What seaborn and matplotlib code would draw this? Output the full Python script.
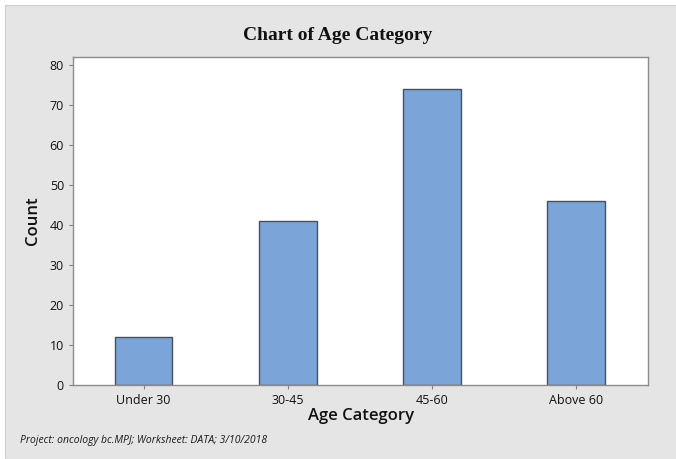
import matplotlib
matplotlib.use("Agg")
import matplotlib.pyplot as plt
import seaborn as sns
import pandas as pd
from matplotlib.patches import Rectangle

# === Data ===
categories = ["Under 30", "30-45", "45-60", "Above 60"]
counts = [12, 41, 74, 46]
y_ticks = [0, 10, 20, 30, 40, 50, 60, 70, 80]

df = pd.DataFrame({"Age Category": categories, "Count": counts})

sns.set_style("white")
plt.rcParams["font.family"] = ["Open Sans", "DejaVu Sans"]

W, H = 676, 459
fig = plt.figure(figsize=(W / 100, H / 100), dpi=100, facecolor="white")
# gray Minitab panel (drawn behind the axes)
fig.patches.append(Rectangle((5 / W, 0), 1, 1 - 5 / H, transform=fig.transFigure,
                             facecolor="#E5E5E5", edgecolor="#D0D0D0", lw=0.8, zorder=-1))

left, right, top, bottom = 73, 648, 57, 385
ax = fig.add_axes([left / W, 1 - bottom / H, (right - left) / W, (bottom - top) / H])
ax.set_facecolor("white")

sns.barplot(data=df, x="Age Category", y="Count", ax=ax, color="#7BA4D9",
            width=0.4, edgecolor="#4A4F5A", linewidth=1.0, saturation=1)

ax.set_xlim(-0.49, 3.5)
ax.set_ylim(0, 82)
ax.set_yticks(y_ticks)
ax.tick_params(axis="both", labelsize=9, length=3, color="#808080", direction="out",
               left=True, bottom=True, labelcolor="#111111")
for s in ax.spines.values():
    s.set_color("#8C8C8C")
    s.set_linewidth(1.0)

ax.set_xlabel("Age Category", fontsize=12, labelpad=1, color="#111111", fontweight="semibold")
ax.set_ylabel("Count", fontsize=12, labelpad=6, color="#111111", fontweight="semibold")

fig.text(0.5, 1 - 36 / H, "Chart of Age Category", ha="center", va="center",
         fontsize=14, fontweight="bold", family="Liberation Serif", color="#111111")
fig.text(20 / W, 1 - 441 / H, "Project: oncology bc.MPJ; Worksheet: DATA; 3/10/2018",
         ha="left", va="center", fontsize=7.5, style="italic", color="#1A1A1A")

plt.savefig("out.png", dpi=100, facecolor=fig.get_facecolor())
plt.close()
